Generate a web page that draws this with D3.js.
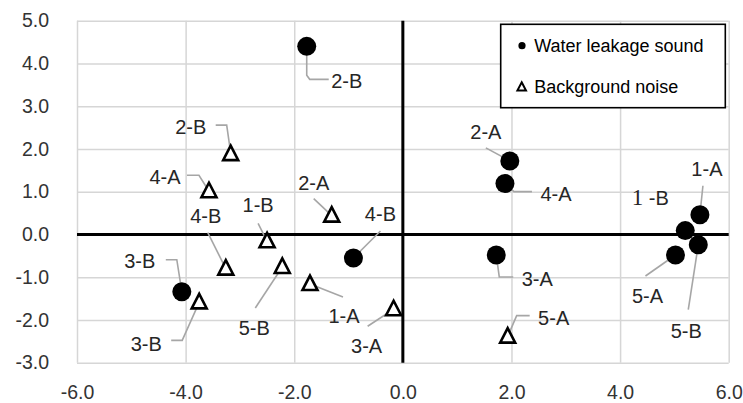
<!DOCTYPE html>
<html>
<head>
<meta charset="utf-8">
<script src="https://cdn.jsdelivr.net/npm/d3@7"></script>
<style>
  html, body { margin: 0; padding: 0; background: #fff; }
  svg { display: block; font-family: "Liberation Sans", Arial, sans-serif; }
</style>
</head>
<body>
<div id="chart"></div>
<script>
// ---- data ----
const xTicks = [-6, -4, -2, 0, 2, 4, 6];
const yTicks = [-3, -2, -1, 0, 1, 2, 3, 4, 5];

const seriesNames = ['Water leakage sound', 'Background noise'];

const leakLabels = ['1-A', '1 -B', '2-A', '2-B', '3-A', '3-B', '4-A', '4-B', '5-A', '5-B'];
const leakX = [5.47, 5.20, 1.97, -1.77, 1.72, -4.07, 1.88, -0.91, 5.02, 5.44];
const leakY = [0.46, 0.09, 1.72, 4.40, -0.48, -1.34, 1.19, -0.55, -0.48, -0.24];

const noiseLabels = ['1-A', '1-B', '2-A', '2-B', '3-A', '3-B', '4-A', '4-B', '5-A', '5-B'];
const noiseX = [-1.71, -2.50, -1.31, -3.17, -0.17, -3.75, -3.57, -3.26, 1.93, -2.22];
const noiseY = [-1.16, -0.16, 0.44, 1.88, -1.75, -1.59, 1.01, -0.80, -2.39, -0.76];

// label placement (pixel offsets from the marker) and leader lines
const leakLabelOff = [[7, -46], [-35, -33], [-24, -29], [40, 34], [41, 24], [-42, -31], [51, 10], [27, -44], [-28, 41], [-12, 86]];
const leakLeaders = [
  [[3, -29], [0, 0]],
  [],
  [[-24, -13], [0, 0]],
  [[22, 33], [3, 33], [0, 29], [0, 0]],
  [[0, 0], [3, 22], [17, 22]],
  [[-16, -32], [-5, -32], [0, 0]],
  [[0, 0], [9, 8], [27, 8]],
  [[27, -27], [0, 0]],
  [[-30, 21], [0, 0]],
  [[-10, 65], [0, 0]]
];
const noiseLabelOff = [[34, 32], [-9, -36], [-18, -33], [-40, -27], [-27, 37], [-53, 41], [-44, -14], [-20, -53], [46, -19], [-28, 61]];
const noiseLeaders = [
  [[33, 13], [0, 0]],
  [[-9, -18], [0, 0]],
  [[-18, -17], [0, 0]],
  [[-15, -29], [-4, -29], [-1, -8]],
  [[-26, 17], [0, 0]],
  [[-28, 38], [-17, 38], [0, 0]],
  [[-22, -16], [-10, -16], [0, 0]],
  [[-18, -36], [0, 0]],
  [[0, 0], [9, -21], [22, -21]],
  [[-27, 41], [0, 0]]
];

const width = 743;
const height = 403;
const margin = { top: 20.7, right: 14.3, bottom: 40.3, left: 77 };

const x = d3.scaleLinear().domain([-6, 6]).range([margin.left, width - margin.right]);
const y = d3.scaleLinear().domain([-3, 5]).range([height - margin.bottom, margin.top]);

const svg = d3.select('#chart').append('svg')
  .attr('width', width)
  .attr('height', height);

const fmt = d => d.toFixed(1);

// gridlines + tick labels
svg.append('g')
  .attr('transform', `translate(${margin.left},0)`)
  .call(d3.axisLeft(y).tickValues(yTicks).tickFormat(fmt)
    .tickSize(-(width - margin.left - margin.right)).tickPadding(28))
  .call(g => g.select('.domain').remove())
  .call(g => g.selectAll('.tick line').attr('stroke', '#d6d6d6').attr('stroke-width', 1.5))
  .call(g => g.selectAll('.tick text').attr('fill', '#333').attr('font-size', 19.5)
    .attr('font-family', '"Liberation Sans", Arial, sans-serif'));

svg.append('g')
  .attr('transform', `translate(0,${height - margin.bottom})`)
  .call(d3.axisBottom(x).tickValues(xTicks).tickFormat(fmt)
    .tickSize(-(height - margin.top - margin.bottom)).tickPadding(22))
  .call(g => g.select('.domain').remove())
  .call(g => g.selectAll('.tick line').attr('stroke', '#d6d6d6').attr('stroke-width', 1.5))
  .call(g => g.selectAll('.tick text').attr('fill', '#333').attr('font-size', 19.5)
    .attr('font-family', '"Liberation Sans", Arial, sans-serif'));

// zero axes
svg.append('line')
  .attr('x1', x(-6)).attr('x2', x(6)).attr('y1', y(0)).attr('y2', y(0))
  .attr('stroke', '#000').attr('stroke-width', 3);
svg.append('line')
  .attr('x1', x(0)).attr('x2', x(0)).attr('y1', y(5)).attr('y2', y(-3))
  .attr('stroke', '#000').attr('stroke-width', 3);

const leak = leakLabels.map((l, i) => ({ label: l, x: leakX[i], y: leakY[i], off: leakLabelOff[i], leader: leakLeaders[i] }));
const noise = noiseLabels.map((l, i) => ({ label: l, x: noiseX[i], y: noiseY[i], off: noiseLabelOff[i], leader: noiseLeaders[i] }));
const all = leak.concat(noise);

// leader lines
const line = d3.line();
svg.append('g').selectAll('path')
  .data(all.filter(d => d.leader.length))
  .join('path')
  .attr('d', d => line(d.leader.map(p => [x(d.x) + p[0], y(d.y) + p[1]])))
  .attr('fill', 'none')
  .attr('stroke', '#a6a6a6')
  .attr('stroke-width', 1.6);

// triangles
const tri = 'M0,-8.5L7.5,6L-7.5,6Z';
svg.append('g').selectAll('path')
  .data(noise)
  .join('path')
  .attr('transform', d => `translate(${x(d.x)},${y(d.y)})`)
  .attr('d', tri)
  .attr('fill', '#fff')
  .attr('stroke', '#000')
  .attr('stroke-width', 2.6)
  .attr('stroke-linejoin', 'miter');

// circles
svg.append('g').selectAll('circle')
  .data(leak)
  .join('circle')
  .attr('cx', d => x(d.x))
  .attr('cy', d => y(d.y))
  .attr('r', 9.5)
  .attr('fill', '#000');

// data labels
const lbl = svg.append('g').selectAll('text')
  .data(all)
  .join('text')
  .attr('x', d => x(d.x) + d.off[0])
  .attr('y', d => y(d.y) + d.off[1])
  .attr('dy', '0.36em')
  .attr('text-anchor', 'middle')
  .attr('font-size', 20)
  .attr('fill', '#262626');
lbl.filter(d => d.label !== '1 -B').text(d => d.label);
lbl.filter(d => d.label === '1 -B').each(function () {
  const t = d3.select(this);
  t.append('tspan').attr('font-family', '"Liberation Serif", serif').attr('font-size', 23).text('1');
  t.append('tspan').text(' -B');
});

// legend
const lg = svg.append('g').attr('transform', 'translate(500.7,24.3)');
lg.append('rect')
  .attr('width', 224.6).attr('height', 83.4)
  .attr('fill', '#fff').attr('stroke', '#000').attr('stroke-width', 1.6);
lg.append('circle').attr('cx', 21.3).attr('cy', 21.4).attr('r', 3.6).attr('fill', '#000');
lg.append('path')
  .attr('transform', 'translate(21,63)')
  .attr('d', 'M0,-5L4.3,3.3L-4.3,3.3Z')
  .attr('fill', '#fff').attr('stroke', '#000').attr('stroke-width', 2);
lg.selectAll('text.item')
  .data(seriesNames)
  .join('text')
  .attr('class', 'item')
  .attr('x', 33.5)
  .attr('y', (d, i) => 27.5 + i * 41)
  .attr('font-size', 18)
  .attr('fill', '#000')
  .text(d => d);
</script>
</body>
</html>
